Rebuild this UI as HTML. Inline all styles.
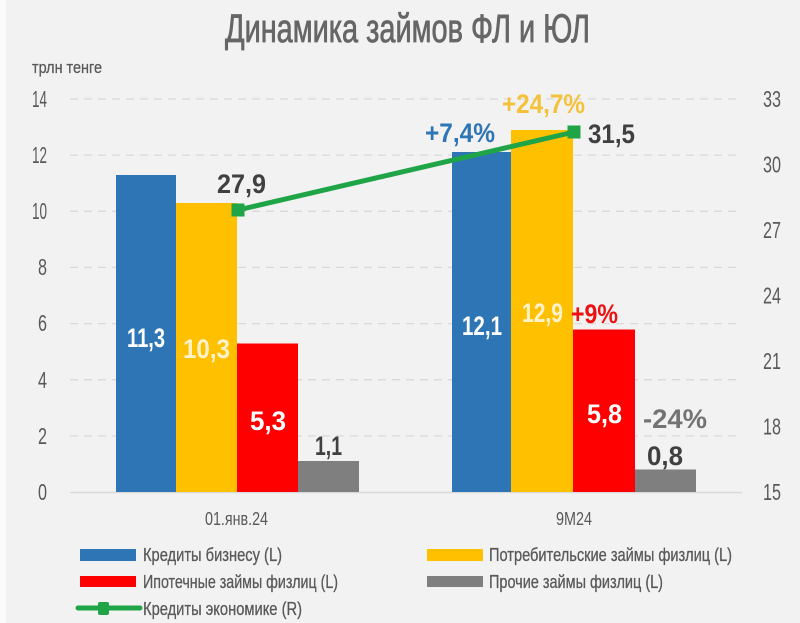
<!DOCTYPE html>
<html>
<head>
<meta charset="utf-8">
<style>
html,body{margin:0;padding:0;background:#f2f2f2;}
svg{display:block;}
text{font-family:"Liberation Sans Narrow","Liberation Sans","DejaVu Sans",sans-serif;}
</style>
</head>
<body>
<svg width="800" height="623" viewBox="0 0 800 623" xmlns="http://www.w3.org/2000/svg">
  <rect x="0" y="0" width="800" height="623" fill="#f2f2f2"/>
  <rect x="0" y="0" width="6" height="623" fill="#fbfbfb"/>

  <!-- Title -->
  <text x="225" y="42" font-size="40" fill="#666666" stroke="#666666" stroke-width="0.8" textLength="365" lengthAdjust="spacingAndGlyphs">Динамика займов ФЛ и ЮЛ</text>
  <text x="32" y="73" font-size="17" fill="#595959" stroke="#595959" stroke-width="0.3" textLength="70" lengthAdjust="spacingAndGlyphs">трлн тенге</text>

  <!-- Gridlines -->
  <g stroke="#d9d9d9" stroke-width="1.3" stroke-dasharray="8,6" fill="none">
    <line x1="70" y1="99" x2="742" y2="99"/>
    <line x1="70" y1="155.1" x2="742" y2="155.1"/>
    <line x1="70" y1="211.3" x2="742" y2="211.3"/>
    <line x1="70" y1="267.4" x2="742" y2="267.4"/>
    <line x1="70" y1="323.6" x2="742" y2="323.6"/>
    <line x1="70" y1="379.7" x2="742" y2="379.7"/>
    <line x1="70" y1="435.9" x2="742" y2="435.9"/>
  </g>
  <line x1="70" y1="492.5" x2="742" y2="492.5" stroke="#d9d9d9" stroke-width="1.5"/>

  <!-- Left ticks -->
  <g font-size="23" fill="#595959" text-anchor="end">
    <text x="47" y="107" textLength="15" lengthAdjust="spacingAndGlyphs">14</text>
    <text x="47" y="163" textLength="15" lengthAdjust="spacingAndGlyphs">12</text>
    <text x="47" y="219" textLength="15" lengthAdjust="spacingAndGlyphs">10</text>
    <text x="47" y="275" textLength="9" lengthAdjust="spacingAndGlyphs">8</text>
    <text x="47" y="331" textLength="9" lengthAdjust="spacingAndGlyphs">6</text>
    <text x="47" y="388" textLength="9" lengthAdjust="spacingAndGlyphs">4</text>
    <text x="47" y="444" textLength="9" lengthAdjust="spacingAndGlyphs">2</text>
    <text x="47" y="500" textLength="9" lengthAdjust="spacingAndGlyphs">0</text>
  </g>
  <!-- Right ticks -->
  <g font-size="23" fill="#595959">
    <text x="763" y="107" textLength="18" lengthAdjust="spacingAndGlyphs">33</text>
    <text x="763" y="172.5" textLength="18" lengthAdjust="spacingAndGlyphs">30</text>
    <text x="763" y="238" textLength="18" lengthAdjust="spacingAndGlyphs">27</text>
    <text x="763" y="303.5" textLength="18" lengthAdjust="spacingAndGlyphs">24</text>
    <text x="763" y="369" textLength="18" lengthAdjust="spacingAndGlyphs">21</text>
    <text x="763" y="434.5" textLength="18" lengthAdjust="spacingAndGlyphs">18</text>
    <text x="763" y="500" textLength="18" lengthAdjust="spacingAndGlyphs">15</text>
  </g>

  <!-- Bars group 1 -->
  <rect x="116" y="175" width="60" height="317" fill="#2e75b6"/>
  <rect x="176" y="203" width="61" height="289" fill="#ffc000"/>
  <rect x="237" y="343.5" width="61" height="148.5" fill="#ff0000"/>
  <rect x="298" y="461" width="61" height="31" fill="#7f7f7f"/>
  <!-- Bars group 2 -->
  <rect x="452" y="152" width="59" height="340" fill="#2e75b6"/>
  <rect x="511" y="130" width="62" height="362" fill="#ffc000"/>
  <rect x="573" y="329.5" width="62" height="162.5" fill="#ff0000"/>
  <rect x="635" y="469.5" width="61" height="22.5" fill="#7f7f7f"/>

  <!-- Line -->
  <line x1="238" y1="210" x2="574" y2="132" stroke="#1fa548" stroke-width="5"/>
  <rect x="231.5" y="203.5" width="13" height="13" fill="#1fa548"/>
  <rect x="567.5" y="125.5" width="13" height="13" fill="#1fa548"/>

  <!-- Data labels -->
  <g font-size="27" font-weight="bold">
    <text x="127" y="347" fill="#ffffff" textLength="38" lengthAdjust="spacingAndGlyphs">11,3</text>
    <text x="183" y="358" fill="#fff2cc" textLength="47" lengthAdjust="spacingAndGlyphs">10,3</text>
    <text x="250" y="430" fill="#ffffff" textLength="36" lengthAdjust="spacingAndGlyphs">5,3</text>
    <text x="315" y="455" fill="#404040" textLength="27" lengthAdjust="spacingAndGlyphs">1,1</text>
    <text x="217" y="193" fill="#404040" textLength="49" lengthAdjust="spacingAndGlyphs">27,9</text>
    <text x="425" y="142" fill="#2e75b6" textLength="70" lengthAdjust="spacingAndGlyphs">+7,4%</text>
    <text x="502" y="113" fill="#f4c23a" textLength="83" lengthAdjust="spacingAndGlyphs">+24,7%</text>
    <text x="588" y="143" fill="#404040" textLength="47" lengthAdjust="spacingAndGlyphs">31,5</text>
    <text x="462" y="335" fill="#ffffff" textLength="40" lengthAdjust="spacingAndGlyphs">12,1</text>
    <text x="522" y="322" fill="#fff2cc" textLength="41" lengthAdjust="spacingAndGlyphs">12,9</text>
    <text x="571" y="323" fill="#ee1111" textLength="47" lengthAdjust="spacingAndGlyphs">+9%</text>
    <text x="587" y="423" fill="#ffffff" textLength="35" lengthAdjust="spacingAndGlyphs">5,8</text>
    <text x="643" y="428" fill="#737373" textLength="64" lengthAdjust="spacingAndGlyphs">-24%</text>
    <text x="647" y="465" fill="#404040" textLength="36" lengthAdjust="spacingAndGlyphs">0,8</text>
  </g>

  <!-- Category labels -->
  <g font-size="18" fill="#595959">
    <text x="205" y="525" textLength="63" lengthAdjust="spacingAndGlyphs">01.янв.24</text>
    <text x="556" y="525" textLength="36" lengthAdjust="spacingAndGlyphs">9M24</text>
  </g>

  <!-- Legend -->
  <rect x="80" y="549" width="56" height="12" fill="#2e75b6"/>
  <rect x="80" y="576" width="56" height="11" fill="#ff0000"/>
  <line x1="78" y1="608" x2="140" y2="608" stroke="#1fa548" stroke-width="5" stroke-linecap="round"/>
  <rect x="98" y="602" width="11" height="13" rx="2" fill="#1fa548"/>
  <rect x="427" y="549" width="56" height="12" fill="#ffc000"/>
  <rect x="427" y="576" width="56" height="11" fill="#7f7f7f"/>
  <g font-size="18" fill="#595959" stroke="#595959" stroke-width="0.3">
    <text x="143" y="561" textLength="139" lengthAdjust="spacingAndGlyphs">Кредиты бизнесу (L)</text>
    <text x="143" y="588" textLength="195" lengthAdjust="spacingAndGlyphs">Ипотечные займы физлиц (L)</text>
    <text x="143" y="615" textLength="159" lengthAdjust="spacingAndGlyphs">Кредиты экономике (R)</text>
    <text x="489" y="561" textLength="243" lengthAdjust="spacingAndGlyphs">Потребительские займы физлиц (L)</text>
    <text x="489" y="588" textLength="174" lengthAdjust="spacingAndGlyphs">Прочие займы физлиц (L)</text>
  </g>
</svg>
</body>
</html>
